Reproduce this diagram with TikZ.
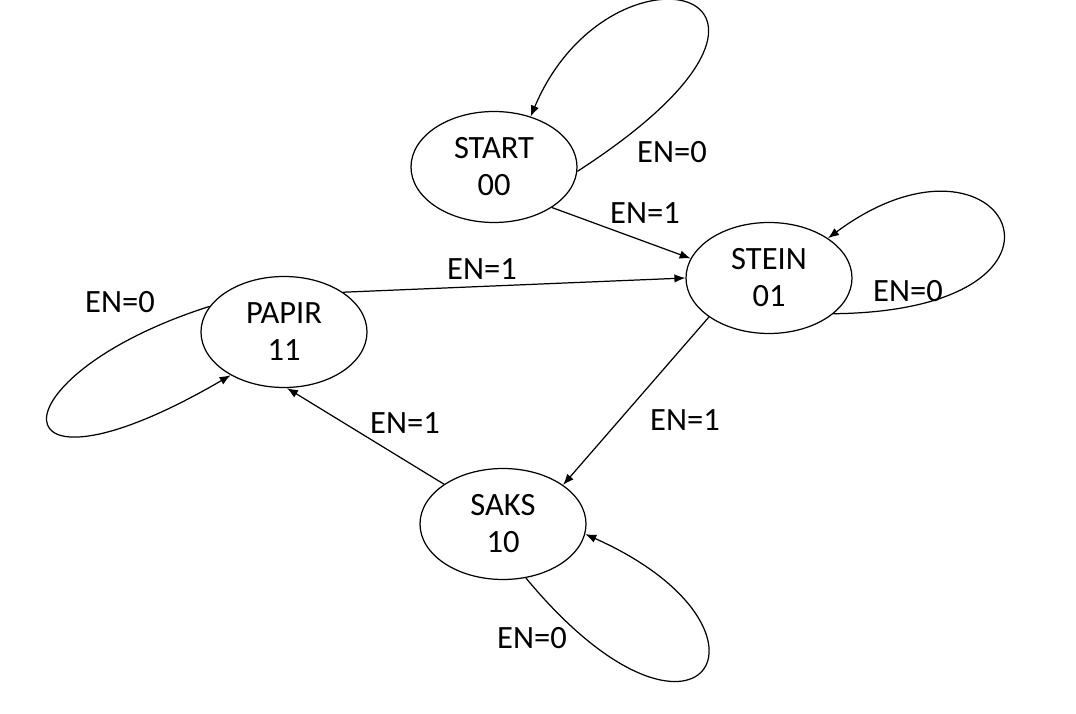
\documentclass[tikz,border=0pt]{standalone}
\usepackage{fontspec}
\setmainfont{Carlito}
\usetikzlibrary{shapes.geometric,arrows.meta}

\begin{document}
\begin{tikzpicture}[
		tilstand/.style={draw, ellipse, minimum width=3.32cm, minimum height=2.22cm, inner sep=0pt, align=center, line width=0.7pt, font=\fontsize{18.5}{21}\selectfont},
		pil/.style={-{Latex[length=2.2mm,width=1.7mm]}, line width=0.7pt},
		etikett/.style={font=\fontsize{18.5}{21}\selectfont}
	]
			\useasboundingbox (0,0) rectangle (21.52,14.28);
			% tilstander
			\node[tilstand] (start) at (9.88,10.94) {START\\00};
			\node[tilstand] (stein) at (15.38,8.72) {STEIN\\01};
			\node[tilstand] (papir) at (5.68,7.64) {PAPIR\\11};
			\node[tilstand] (saks) at (10.06,3.80) {SAKS\\10};
			% overganger
			\draw[pil] (start.-35) -- (stein.166);
			\draw[pil] (papir.34) -- (stein.180);
			\draw[pil] (stein.213) -- (saks.33);
			\draw[pil] (saks.146) -- (papir.-87);
			% loekker
			\draw[pil] (start.-3) .. controls +(5.64,3.64) and +(1.6,3.8) .. (start.54);
			\draw[pil] (stein.-29) .. controls +(5.54,0.06) and +(3.56,2.64) .. (stein.34);
			\draw[pil] (papir.161) .. controls +(-4.4,-1.4) and +(-4.8,-2.8) .. (papir.219);
			\draw[pil] (saks.-67) .. controls +(3.46,-4.18) and +(4.3,-1.92) .. (saks.-7);
			% etiketter
			\node[etikett] (e1) at (13.44,11.24) {EN=0};
			\node[etikett] (e2) at (12.9,10.02) {EN=1};
			\node[etikett] (e3) at (18.16,8.46) {EN=0};
			\node[etikett] (e4) at (9.64,8.9) {EN=1};
			\node[etikett] (e5) at (2.4,8.24) {EN=0};
			\node[etikett] (e6) at (8.1,5.82) {EN=1};
			\node[etikett] (e7) at (13.7,5.88) {EN=1};
			\node[etikett] (e8) at (10.64,1.52) {EN=0};
		\end{tikzpicture}
\end{document}
